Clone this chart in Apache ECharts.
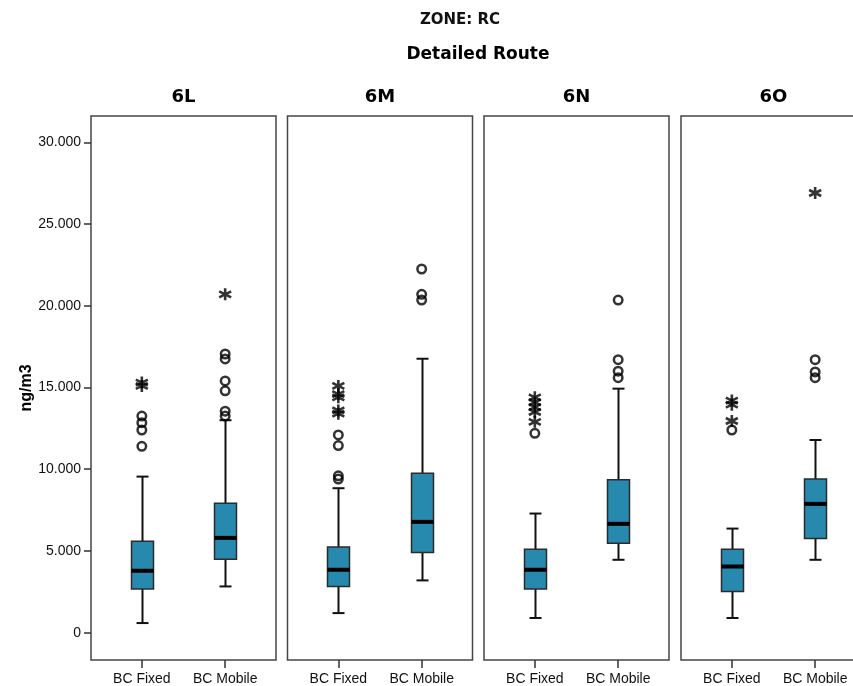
<!DOCTYPE html>
<html>
<head>
<meta charset="utf-8">
<title>ZONE: RC – Detailed Route</title>
<script src="https://cdn.jsdelivr.net/npm/echarts@6/dist/echarts.min.js"></script>
<style>
  html, body { margin: 0; padding: 0; background: #fff; }
  #chart { width: 853px; height: 686px; }
</style>
</head>
<body>
<div id="chart"></div>
<script>
// Panels (one per route) and the two measurements shown in each
const routes = ['6L', '6M', '6N', '6O'];
const measures = ['BC Fixed', 'BC Mobile'];

// Five-number summaries per route: [lower whisker, Q1, median, Q3, upper whisker] (ng/m3)
const fixedBox = [
  [590, 2670, 3790, 5600, 9550],
  [1200, 2830, 3850, 5240, 8840],
  [900, 2670, 3850, 5110, 7290],
  [900, 2520, 4050, 5110, 6370]
];
const mobileBox = [
  [2830, 4500, 5800, 7920, 13000],
  [3200, 4910, 6780, 9760, 16760],
  [4460, 5480, 6660, 9350, 14930],
  [4460, 5760, 7880, 9410, 11790]
];

// Outliers (circles) and extreme values (stars) per route
const fixedCircles = [
  [11400, 12400, 12850, 13250],
  [12100, 11450, 9600, 9400],
  [12200],
  [12400]
];
const fixedStars = [
  [15100, 15300],
  [15100, 14600, 14400, 13600, 13400],
  [14400, 14100, 13800, 13500, 12900],
  [14200, 13950, 12950]
];
const mobileCircles = [
  [17050, 16750, 15400, 14800, 13550, 13250],
  [22250, 20700, 20350],
  [20350, 16700, 16000, 15600],
  [16700, 15950, 15600]
];
const mobileStars = [
  [20700],
  [],
  [],
  [26900]
];

// Value axis ticks
const yTicks = [0, 5000, 10000, 15000, 20000, 25000, 30000];

// ---- layout ----
const panelLeft = [91, 287.5, 484, 681];
const panelWidth = 185;
const panelTop = 116;
const panelHeight = 544;
const yMin = -1670, yMax = 31610;

const BOX_FILL = '#2789ae';
const FONT = 'Liberation Sans, Arial, sans-serif';
const TITLE_FONT = 'DejaVu Sans, Verdana, sans-serif';

function fmtThousands(v) {
  return v === 0 ? '0' : (v / 1000).toFixed(3);
}

function renderBox(params, api) {
  const x = api.value(0);
  const lo = api.coord([x, api.value(1)]);
  const q1 = api.coord([x, api.value(2)]);
  const med = api.coord([x, api.value(3)]);
  const q3 = api.coord([x, api.value(4)]);
  const hi = api.coord([x, api.value(5)]);
  const cx = Math.round(lo[0]) + 0.5;
  const bw = 22, cw = 12;
  const wStyle = { stroke: '#111', lineWidth: 2 };
  return {
    type: 'group',
    children: [
      { type: 'line', shape: { x1: cx, y1: hi[1], x2: cx, y2: lo[1] }, style: wStyle },
      { type: 'line', shape: { x1: cx - cw / 2, y1: hi[1], x2: cx + cw / 2, y2: hi[1] }, style: wStyle },
      { type: 'line', shape: { x1: cx - cw / 2, y1: lo[1], x2: cx + cw / 2, y2: lo[1] }, style: wStyle },
      { type: 'rect', shape: { x: cx - bw / 2, y: q3[1], width: bw, height: q1[1] - q3[1] },
        style: { fill: BOX_FILL, stroke: '#2b2b2b', lineWidth: 1.5 } },
      { type: 'line', shape: { x1: cx - bw / 2, y1: med[1], x2: cx + bw / 2, y2: med[1] },
        style: { stroke: '#000', lineWidth: 4 } }
    ]
  };
}

const STAR_PATH = 'path://M5,0L5,10M0.67,2.5L9.33,7.5M0.67,7.5L9.33,2.5';

const grids = [], xAxes = [], yAxes = [], series = [], titles = [];

titles.push({
  text: 'ZONE: RC', left: 460, top: 13, textAlign: 'center', padding: 0,
  textStyle: { fontFamily: TITLE_FONT, fontSize: 15, fontWeight: 'bold', color: '#111' }
});
titles.push({
  text: 'Detailed Route', left: 478, top: 46, textAlign: 'center', padding: 0,
  textStyle: { fontFamily: TITLE_FONT, fontSize: 17, fontWeight: 'bold', color: '#000' }
});

routes.forEach(function (route, i) {
  grids.push({
    left: panelLeft[i], top: panelTop, width: panelWidth, height: panelHeight,
    show: true, borderColor: '#454545', borderWidth: 1.5, backgroundColor: '#fff',
    containLabel: false, outerBoundsMode: 'none'
  });
  titles.push({
    text: route, left: panelLeft[i] + panelWidth / 2, top: 88, textAlign: 'center', padding: 0,
    textStyle: { fontFamily: TITLE_FONT, fontSize: 18, fontWeight: 'bold', color: '#000' }
  });
  xAxes.push({
    type: 'value', gridIndex: i, min: -0.61, max: 1.61, position: 'bottom',
    axisLine: { show: false, onZero: false },
    splitLine: { show: false },
    axisTick: { show: true, inside: false, length: 8, customValues: [0, 1], lineStyle: { color: '#333', width: 1.5 } },
    axisLabel: {
      customValues: [0, 1], margin: 12,
      formatter: function (v) { return measures[Math.round(v)]; },
      fontFamily: FONT, fontSize: 14, color: '#111'
    }
  });
  const first = i === 0;
  yAxes.push({
    type: 'value', gridIndex: i, min: yMin, max: yMax, position: 'left',
    name: first ? 'ng/m3' : '',
    nameLocation: 'middle', nameRotate: 90, nameGap: 56,
    nameTextStyle: { fontFamily: FONT, fontSize: 16, fontWeight: 'bold', color: '#000' },
    axisLine: { show: false, onZero: false },
    splitLine: { show: false },
    axisTick: { show: first, inside: false, length: 7, customValues: yTicks, lineStyle: { color: '#333', width: 1.5 } },
    axisLabel: {
      show: first, customValues: yTicks, margin: 10,
      formatter: fmtThousands,
      fontFamily: FONT, fontSize: 14, color: '#111'
    }
  });

  series.push({
    type: 'custom', xAxisIndex: i, yAxisIndex: i,
    renderItem: renderBox,
    encode: { x: 0, y: [1, 2, 3, 4, 5] },
    data: [[0].concat(fixedBox[i]), [1].concat(mobileBox[i])],
    z: 2, silent: true
  });

  const circles = fixedCircles[i].map(function (v) { return [0, v]; })
    .concat(mobileCircles[i].map(function (v) { return [1, v]; }));
  const stars = fixedStars[i].map(function (v) { return [0, v]; })
    .concat(mobileStars[i].map(function (v) { return [1, v]; }));

  series.push({
    type: 'scatter', xAxisIndex: i, yAxisIndex: i,
    symbol: 'circle', symbolSize: 8.5,
    itemStyle: { color: 'rgba(0,0,0,0)', borderColor: '#000', borderWidth: 2.5 },
    data: circles, z: 3, silent: true
  });
  series.push({
    type: 'scatter', xAxisIndex: i, yAxisIndex: i,
    symbol: STAR_PATH, symbolSize: 12,
    itemStyle: { color: '#000', borderColor: '#000', borderWidth: 2.6 },
    data: stars, z: 3, silent: true
  });
});

const chart = echarts.init(document.getElementById('chart'), null, { renderer: 'canvas' });
chart.setOption({
  animation: false,
  backgroundColor: '#fff',
  title: titles,
  grid: grids,
  xAxis: xAxes,
  yAxis: yAxes,
  series: series
});
</script>
</body>
</html>
